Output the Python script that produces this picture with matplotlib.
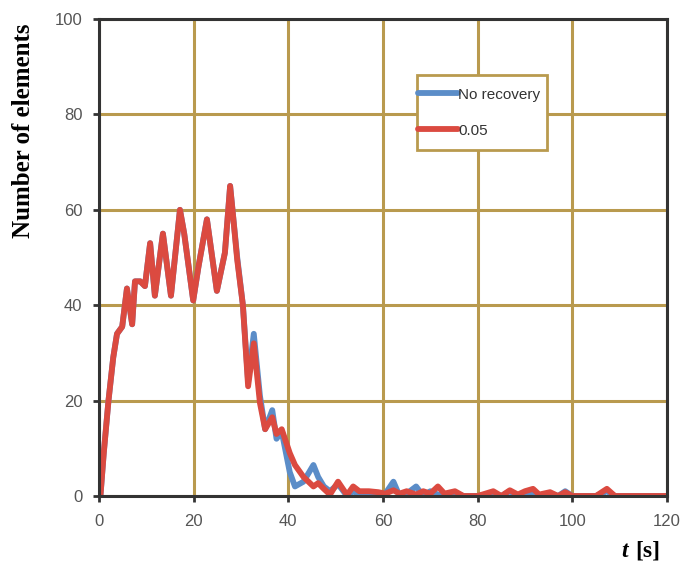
import matplotlib
matplotlib.use('Agg')
import matplotlib.pyplot as plt
from matplotlib.patches import Rectangle

# time points (s)
t = [0, 0.3, 1, 2, 3, 3.8, 4.9, 5.9, 7.0, 7.6, 8.7, 9.7, 10.8, 11.8, 13.5, 15.2,
     17.1, 18.0, 19.9, 21.0, 22.8, 24.9, 26.6, 27.7, 28.2, 29.2, 30.4, 31.5,
     32.7, 34.0, 35.1, 36.6, 37.5, 38.6, 40.3, 41.4, 43.2, 45.3, 46.3, 47.5,
     48.8, 50.5, 52.4, 53.7, 55, 57, 59, 60.5, 62.2, 63.5, 65, 67, 68.5, 70,
     71.6, 73, 75.2, 77, 80, 83.3, 85, 86.8, 88.5, 90, 91.7, 93, 95.3, 97,
     98.5, 100, 105, 107.3, 109, 120]

# 0.05 recovery
red = [0, 0, 9, 20, 29, 34, 35.5, 43.5, 36, 45, 45, 44, 53, 42, 55, 42,
       60, 55, 41, 48, 58, 43, 51, 65, 60, 49.5, 40, 23,
       32, 19.5, 14, 16.5, 13, 14, 9, 6.5, 4, 2, 2.7, 1.5,
       0.3, 3, 0.2, 2, 1, 1, 0.8, 0.5, 1.2, 0.5, 1, 0.3, 1, 0.5,
       2, 0.5, 1, 0, 0, 1, 0, 1.2, 0.3, 1, 1.5, 0.3, 0.8, 0,
       0.8, 0, 0, 1.5, 0, 0]

# no recovery
blue = [0, 0, 9, 20, 29, 34, 35.5, 43.5, 36, 45, 45, 44, 53, 42, 55, 42,
        60, 55, 41, 48, 58, 43, 51, 65, 60, 50, 40, 24,
        34, 21, 14, 18, 12, 13.5, 5, 2, 3, 6.5, 4, 2,
        1, 2.5, 0, 1, 0.3, 0.5, 0, 0.5, 3, 0, 0.5, 2, 0, 1,
        0.3, 0, 0.5, 0, 0, 0.5, 0, 1, 0, 0.5, 0.3, 0, 0.5, 0,
        1, 0, 0, 1, 0, 0]

labels = ['No recovery', '0.05']

gold = '#B99A4E'
dark = '#333333'

fig = plt.figure(figsize=(6.81, 5.74), dpi=100)
ax = fig.add_axes([0.1454, 0.1359, 0.834, 0.831])

ax.plot(t, blue, color='#5B8DC8', lw=4.2, label=labels[0], solid_capstyle='round',
        solid_joinstyle='round', zorder=3)
ax.plot(t, red, color='#DB4A40', lw=4.2, label=labels[1], solid_capstyle='round',
        solid_joinstyle='round', zorder=4)

ax.set_xlim(0, 120)
ax.set_ylim(0, 100)
ax.set_xticks(range(0, 121, 20))
ax.set_yticks(range(0, 101, 20))
ax.grid(True, color=gold, lw=2.2)
ax.set_axisbelow(True)
for s in ax.spines.values():
    s.set_color(dark)
    s.set_linewidth(2.2)
    s.set_zorder(5)
ax.tick_params(direction='out', length=4, width=2, color=dark, labelcolor='#555555',
               labelsize=12)
ax.tick_params(axis='x', pad=9)
ax.tick_params(axis='y', pad=8)
for lab in ax.get_xticklabels() + ax.get_yticklabels():
    lab.set_family('Liberation Sans')

# legend box
ax.add_patch(Rectangle((0.5598, 0.725), 0.2289, 0.158, transform=ax.transAxes,
                       facecolor='white', edgecolor=gold, lw=2, zorder=6))
leg = ax.legend(loc='upper left', bbox_to_anchor=(0.5616, 0.856), frameon=False,
                borderpad=0, borderaxespad=0, handlelength=2.6, handletextpad=0.05,
                labelspacing=1.45, prop={'family': 'Liberation Sans', 'size': 11})
leg.set_zorder(7)
for txt in leg.get_texts():
    txt.set_color('#333333')

fig.text(0.034, 0.772, 'Number of elements', rotation=90, ha='center', va='center',
         family='Liberation Serif', weight='bold', fontsize=18)
fig.text(0.917, 0.04, 't', ha='center', va='center', family='Liberation Serif',
         weight='bold', style='italic', fontsize=17)
fig.text(0.951, 0.04, '[s]', ha='center', va='center', family='Liberation Serif',
         weight='bold', fontsize=17)

fig.savefig('out.png', dpi=100)
